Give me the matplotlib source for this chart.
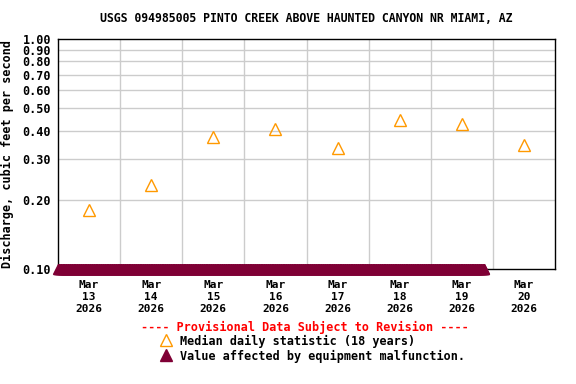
import numpy as np
import pandas as pd
import matplotlib
matplotlib.use("Agg")
import matplotlib.pyplot as plt

# median daily statistic (18 years), plotted at noon
median_days = pd.to_datetime(["2026-03-13", "2026-03-14", "2026-03-15", "2026-03-16",
                              "2026-03-17", "2026-03-18", "2026-03-19", "2026-03-20"]) + pd.Timedelta(hours=12)
median_vals = [0.18, 0.232, 0.375, 0.406, 0.336, 0.444, 0.427, 0.346]

# equipment malfunction values (15 min record, all at 0.10)
malf_start = "2026-03-13 00:00"
malf_end = "2026-03-19 20:45"
malf_times = pd.date_range(malf_start, malf_end, freq="15min")
malf_vals = [0.10] * len(malf_times)

yticks = [0.10, 0.20, 0.30, 0.40, 0.50, 0.60, 0.70, 0.80, 0.90, 1.00]
label_days = median_days
tick_labels = ["Mar\n%d\n2026" % d.day for d in label_days]

plt.rcParams['font.family'] = ['DejaVu Sans Mono']
plt.rcParams['font.weight'] = 'bold'

fig = plt.figure(figsize=(5.76, 3.84), dpi=100)
ax = fig.add_axes([58/576, 1-269/384, (555-58)/576, (269-39)/384])

ax.set_yscale("log")
ax.set_ylim(0.1, 1.0)
ax.set_xlim(pd.Timestamp("2026-03-13"), pd.Timestamp("2026-03-21"))

ax.plot(malf_times, malf_vals, linestyle="none", marker="^", markersize=6.5,
        color="#7f0035", clip_on=False, zorder=5)
ax.plot(median_days, median_vals, linestyle="none", marker="^", markersize=8,
        markerfacecolor="none", markeredgecolor="#ff9900", markeredgewidth=1.0, zorder=4)

ax.set_yticks(yticks)
ax.set_yticklabels(["%.2f" % v for v in yticks], fontsize=8.5, fontweight="bold")
ax.yaxis.set_minor_locator(matplotlib.ticker.NullLocator())
ax.set_xticks(label_days)
ax.set_xticklabels(tick_labels, fontsize=8, fontweight="bold", linespacing=1.25)
ax.tick_params(axis="y", length=0, pad=5)
ax.tick_params(axis="x", length=0, pad=8)

for v in yticks[1:-1]:
    ax.axhline(v, color="#cccccc", linewidth=1, zorder=1)
for d in pd.date_range("2026-03-14", "2026-03-20", freq="D"):
    ax.axvline(d, color="#cccccc", linewidth=1, zorder=1)

for s in ax.spines.values():
    s.set_linewidth(1)
    s.set_color("black")

ax.set_ylabel("Discharge, cubic feet per second", fontsize=8.5, fontweight="bold")
ax.yaxis.set_label_coords(-0.088, 0.5)

fig.text(306/576, 1-19/384, "USGS 094985005 PINTO CREEK ABOVE HAUNTED CANYON NR MIAMI, AZ",
         ha="center", va="center", fontsize=8.3, fontweight="bold")
fig.text(305/576, 1-327/384, "---- Provisional Data Subject to Revision ----",
         ha="center", va="center", fontsize=8.5, fontweight="bold", color="red")
fig.text(180/576, 1-341/384, "Median daily statistic (18 years)",
         ha="left", va="center", fontsize=8.5, fontweight="bold")
fig.text(180/576, 1-356/384, "Value affected by equipment malfunction.",
         ha="left", va="center", fontsize=8.5, fontweight="bold")
fig.lines.append(plt.Line2D([166/576], [1-340/384], transform=fig.transFigure, marker="^",
                            markersize=8, markerfacecolor="none", markeredgecolor="#ff9900",
                            linestyle="none"))
fig.lines.append(plt.Line2D([166/576], [1-355/384], transform=fig.transFigure, marker="^",
                            markersize=8, color="#7f0035", linestyle="none"))

fig.savefig("out.png", dpi=100)
